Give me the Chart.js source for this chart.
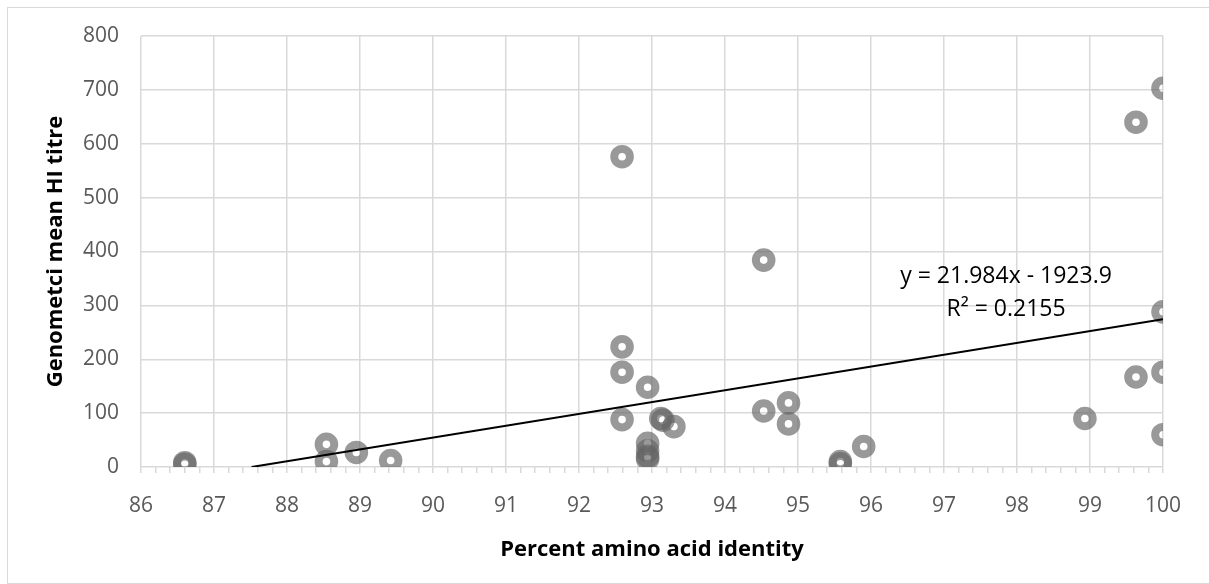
<!DOCTYPE html>
<html>
<head>
<meta charset="utf-8">
<script src="https://cdn.jsdelivr.net/npm/chart.js@4/dist/chart.umd.min.js"></script>
<style>
    html, body { margin: 0; padding: 0; background: #ffffff; }
    #wrap { width: 1209px; height: 584px; position: relative; }
</style>
</head>
<body>
<div id="wrap"><canvas id="identityChart" width="1209" height="584"></canvas></div>
<script>
// values
const pctIdentity = [86.6, 86.6, 88.54, 88.54, 88.95, 89.42, 92.59, 92.59, 92.59, 92.59, 92.94, 92.94, 92.94, 92.94, 92.94,
    93.12, 93.15, 93.3, 94.53, 94.53, 94.87, 94.87, 95.58, 95.58, 95.9, 98.93, 99.63, 99.63, 100, 100, 100, 100];
const hiTitre = [8, 5, 42, 10, 27, 12, 576, 223, 176, 88, 148, 44, 30, 20, 15,
    90, 87, 75, 384, 104, 119, 80, 10, 6, 38, 90, 640, 167, 703, 288, 176, 60];

// trendline ends (y = 21.984x - 1923.9, clipped at the axis)
const trendX = [87.515, 100];
const trendY = [0, 274.5];
const trendLabel = ['y = 21.984x - 1923.9', 'R\u00B2 = 0.2155'];

const xTicks = { min: 86, max: 100, step: 0.2 };
const yTicks = { min: 0, max: 800, step: 100 };

const FONT = '"Open Sans", "Liberation Sans", sans-serif';
const GRID = '#d9d9d9';
const TEXT = '#595959';

function isMajor(v) {
    return Math.abs(v - Math.round(v)) < 1e-6;
}

const frame = {
    id: 'frame',
    beforeDraw(chart) {
        const ctx = chart.ctx;
        ctx.save();
        ctx.fillStyle = '#ffffff';
        ctx.fillRect(0, 0, chart.width, chart.height);
        ctx.strokeStyle = '#d9d9d9';
        ctx.lineWidth = 1;
        ctx.strokeRect(7.5, 7.5, chart.width + 10, chart.height - 8);
        ctx.restore();
    },
};

const equation = {
    id: 'equation',
    afterDatasetsDraw(chart) {
        const { ctx, scales } = chart;
        const cx = scales.x.getPixelForValue(97.85);
        ctx.save();
        ctx.fillStyle = '#000000';
        ctx.font = '23px ' + FONT;
        ctx.textAlign = 'center';
        ctx.textBaseline = 'middle';
        ctx.fillText(trendLabel[0], cx, scales.y.getPixelForValue(353));
        ctx.fillText(trendLabel[1], cx, scales.y.getPixelForValue(293));
        ctx.restore();
    },
};

new Chart(document.getElementById('identityChart'), {
    type: 'scatter',
    data: {
        datasets: [
            {
                type: 'line',
                data: trendX.map((x, i) => ({ x, y: trendY[i] })),
                borderColor: '#000000',
                borderWidth: 2,
                pointRadius: 0,
                fill: false,
                order: 0,
            },
            {
                data: pctIdentity.map((x, i) => ({ x, y: hiTitre[i] })),
                pointRadius: 7.8,
                pointBorderWidth: 8,
                pointBackgroundColor: 'rgba(0,0,0,0)',
                pointBorderColor: 'rgba(100,100,100,0.66)',
                order: 1,
            },
        ],
    },
    options: {
        responsive: false,
        animation: false,
        layout: { padding: { left: 0, top: 36, right: 46, bottom: 0 } },
        plugins: {
            legend: { display: false },
            tooltip: { enabled: false },
        },
        scales: {
            x: {
                type: 'linear',
                min: xTicks.min,
                max: xTicks.max,
                afterFit: (s) => { s.height = 117; },
                border: { display: false },
                grid: {
                    color: (c) => (c.tick && isMajor(c.tick.value) ? GRID : 'rgba(0,0,0,0)'),
                    tickColor: GRID,
                    tickLength: 6,
                    lineWidth: 1.5,
                    tickWidth: 1.5,
                },
                ticks: {
                    stepSize: xTicks.step,
                    autoSkip: false,
                    maxTicksLimit: 200,
                    maxRotation: 0,
                    padding: 20,
                    color: TEXT,
                    font: { family: FONT, size: 21 },
                    callback: (v) => (isMajor(v) ? String(Math.round(v)) : ''),
                },
                title: {
                    display: true,
                    text: 'Percent amino acid identity',
                    color: '#000000',
                    font: { family: FONT, size: 22, weight: 'bold' },
                    padding: { top: 0, bottom: 21 },
                },
            },
            y: {
                min: yTicks.min,
                max: yTicks.max,
                afterFit: (s) => { s.width = 141; },
                border: { display: false },
                grid: {
                    color: GRID,
                    lineWidth: 1.5,
                    drawTicks: false,
                },
                ticks: {
                    stepSize: yTicks.step,
                    padding: 22,
                    color: TEXT,
                    font: { family: FONT, size: 21 },
                },
                title: {
                    display: true,
                    text: 'Genometci mean HI titre',
                    color: '#000000',
                    font: { family: FONT, size: 22, weight: 'bold' },
                    padding: { top: 43, bottom: 0 },
                },
            },
        },
    },
    plugins: [frame, equation],
});
</script>
</body>
</html>
